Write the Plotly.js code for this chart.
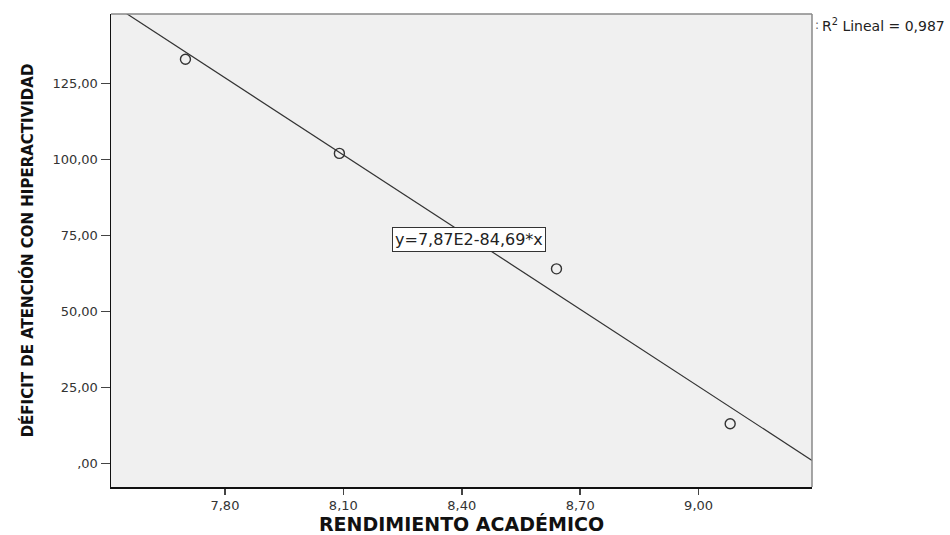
<!DOCTYPE html>
<html>
<head>
<meta charset="utf-8">
<script src="https://cdn.plot.ly/plotly-3.0.1.min.js"></script>
<style>
html,body{margin:0;padding:0;background:#fff;}
#chart{width:950px;height:535px;}
</style>
</head>
<body>
<div id="chart"></div>
<script>
// Data
const rendimiento = [7.70, 8.09, 8.64, 9.08];
const deficitTDAH = [133, 102, 64, 13];

const xTickVals = [7.80, 8.10, 8.40, 8.70, 9.00];
const xTickText = ['7,80', '8,10', '8,40', '8,70', '9,00'];
const yTickVals = [0, 25, 50, 75, 100, 125];
const yTickText = [',00', '25,00', '50,00', '75,00', '100,00', '125,00'];

const xTitle = 'RENDIMIENTO ACADÉMICO';
const yTitle = 'DÉFICIT DE ATENCIÓN CON HIPERACTIVIDAD';
const equationLabel = 'y=7,87E2-84,69*x';
const r2Label = 'R<sup>2</sup> Lineal = 0,987';

const xRange = [7.5114, 9.2873];
const yRange = [-7.8, 147.87];

// Least-squares fit of the data
const n = rendimiento.length;
const mx = rendimiento.reduce((a, b) => a + b, 0) / n;
const my = deficitTDAH.reduce((a, b) => a + b, 0) / n;
let sxy = 0, sxx = 0;
for (let i = 0; i < n; i++) {
  sxy += (rendimiento[i] - mx) * (deficitTDAH[i] - my);
  sxx += (rendimiento[i] - mx) * (rendimiento[i] - mx);
}
const slope = sxy / sxx;
const intercept = my - slope * mx;
const fitX = xRange.slice();
const fitY = fitX.map(x => intercept + slope * x);

const traces = [
  {
    x: fitX, y: fitY, type: 'scatter', mode: 'lines',
    line: {color: '#333333', width: 1.2},
    hoverinfo: 'skip', showlegend: false
  },
  {
    x: rendimiento, y: deficitTDAH, type: 'scatter', mode: 'markers',
    marker: {symbol: 'circle-open', size: 10, color: '#333333', line: {width: 1.4, color: '#333333'}},
    showlegend: false
  }
];

const tickFont = {family: 'DejaVu Sans, Arial, sans-serif', size: 13, color: '#333333'};

const layout = {
  width: 950, height: 535,
  margin: {l: 111, r: 137.5, t: 14, b: 48, pad: 0},
  paper_bgcolor: '#ffffff',
  plot_bgcolor: '#f0f0f0',
  separators: ',.',
  showlegend: false,
  xaxis: {
    range: xRange, autorange: false,
    tickmode: 'array', tickvals: xTickVals, ticktext: xTickText,
    ticks: 'outside', ticklen: 6, tickwidth: 1.5, tickcolor: '#444444',
    showgrid: false, zeroline: false,
    showline: true, linecolor: '#111111', linewidth: 1.5,
    tickfont: tickFont,
    title: {text: xTitle, standoff: 6,
      font: {family: 'DejaVu Sans, Arial, sans-serif', size: 19, color: '#111111', weight: 'bold'}}
  },
  yaxis: {
    range: yRange, autorange: false,
    tickmode: 'array', tickvals: yTickVals, ticktext: yTickText,
    ticks: 'outside', ticklen: 9, tickwidth: 1.5, tickcolor: '#444444',
    showgrid: false, zeroline: false,
    showline: true, linecolor: '#111111', linewidth: 1.5,
    tickfont: tickFont,
    title: {text: yTitle, standoff: 15,
      font: {family: 'DejaVu Sans, Arial, sans-serif', size: 15, color: '#111111', weight: 'bold'}}
  },
  shapes: [
    {type: 'line', xref: 'paper', yref: 'paper', x0: 0, x1: 1, y0: 1, y1: 1,
     line: {color: '#888888', width: 1.5}},
    {type: 'line', xref: 'paper', yref: 'paper', x0: 1, x1: 1, y0: 0, y1: 1,
     line: {color: '#888888', width: 1.5}}
  ],
  annotations: [
    {
      x: 8.419, y: 73.8, xref: 'x', yref: 'y', text: equationLabel, showarrow: false,
      font: {family: 'DejaVu Sans, Arial, sans-serif', size: 16, color: '#222222'},
      bgcolor: '#ffffff', bordercolor: '#333333', borderwidth: 1, borderpad: 2,
      xanchor: 'center', yanchor: 'middle'
    },
    {
      x: 1, xshift: 8, y: 147.87, yshift: -11, xref: 'paper', yref: 'y', text: r2Label, showarrow: false,
      font: {family: 'DejaVu Sans, Arial, sans-serif', size: 14, color: '#222222'},
      xanchor: 'left', yanchor: 'middle'
    },
    {
      x: 1, xshift: 1, y: 147.87, yshift: -11, xref: 'paper', yref: 'y', text: ':', showarrow: false,
      font: {family: 'DejaVu Sans, Arial, sans-serif', size: 12, color: '#666666'},
      xanchor: 'left', yanchor: 'middle'
    }
  ]
};

Plotly.newPlot('chart', traces, layout, {displayModeBar: false, staticPlot: true});
</script>
</body>
</html>
